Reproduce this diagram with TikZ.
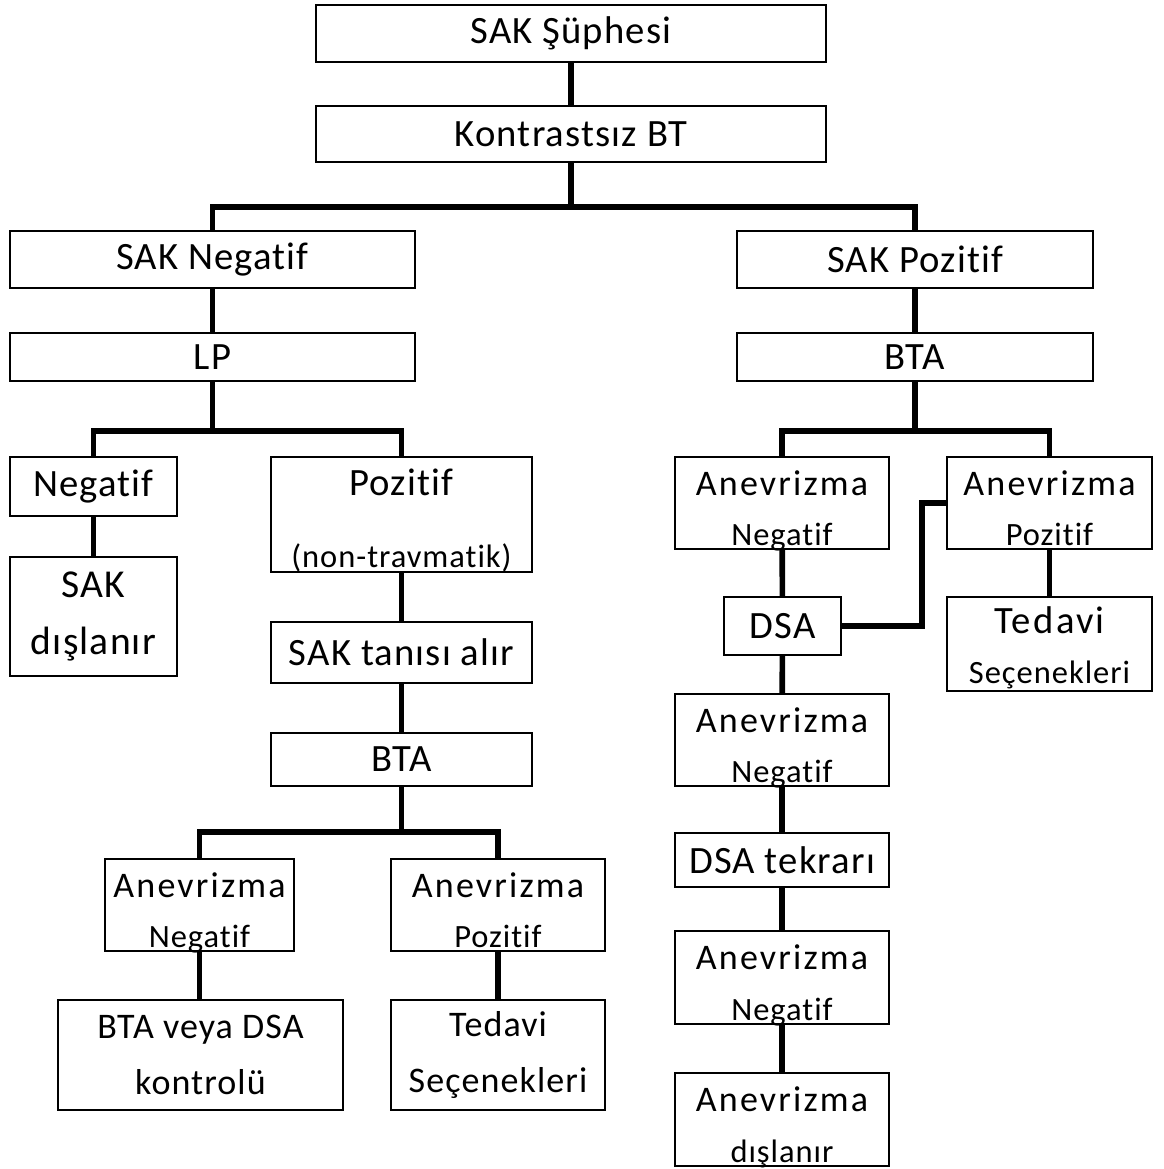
\documentclass[tikz,border=0pt]{standalone}
\usepackage{fontspec}
\setmainfont[LetterSpace=3, Ligatures=NoCommon]{Carlito}
\newfontfamily\anfont[LetterSpace=6, Ligatures=NoCommon]{Carlito}
\usepackage{tikz}
\tikzstyle{box}=[rectangle, draw=black, line width=.8pt, inner sep=0pt,
                 align=center, font=\fontsize{22}{26}\selectfont]
\tikzstyle{line}=[draw=black, line width=3.2pt]
\tikzstyle{head}=[anchor=base, inner sep=0pt, font=\anfont\fontsize{20.5}{24}\selectfont]
\tikzstyle{big}=[anchor=base, inner sep=0pt, font=\fontsize{22}{26}\selectfont]
\tikzstyle{sub}=[anchor=base, inner sep=0pt, font=\fontsize{18.5}{20}\selectfont]

\begin{document}
\begin{tikzpicture}[x=0.02cm, y=-0.02cm]
      \useasboundingbox (0,0) rectangle (1163,1169);

      % top
      \node[box, minimum width=10.2cm, minimum height=1.14cm] (supheli) at (571,33.5) {SAK Şüphesi};
      \node[box, minimum width=10.2cm, minimum height=1.12cm] (bt) at (571,134) {Kontrastsız BT};

      \node[box, minimum width=8.1cm, minimum height=1.14cm] (sakneg) at (212.5,259.5) {SAK Negatif};
      \node[box, minimum width=7.12cm, minimum height=1.14cm] (sakpoz) at (915,259.5) {SAK Pozitif};

      \node[box, minimum width=8.1cm, minimum height=.96cm] (lp) at (212.5,357) {LP};
      \node[box, minimum width=7.12cm, minimum height=.96cm] (btar) at (915,357) {BTA};

      % left branch
      \node[box, minimum width=3.34cm, minimum height=1.18cm] (lpneg) at (93.5,486.5) {Negatif};
      \node[box, minimum width=3.34cm, minimum height=2.38cm,
            font=\fontsize{22.5}{32.3}\selectfont] (disl) at (93.5,616.5) {SAK\\dışlanır};

      \node[box, minimum width=5.22cm, minimum height=2.3cm] (lppoz) at (401.5,514.5) {};
      \node[big] (lppozt) at (401.5,495) {Pozitif};
      \node[sub] (lppozs) at (401.5,567) {(non-travmatik)};

      \node[box, minimum width=5.22cm, minimum height=1.22cm] (tani) at (401.5,652.5) {SAK tanısı alır};
      \node[box, minimum width=5.22cm, minimum height=1.06cm] (btal) at (401.5,759.5) {BTA};

      \node[box, minimum width=3.78cm, minimum height=1.84cm] (anl1) at (199.5,905) {};
      \node[head] (anl1t) at (199.5,897) {Anevrizma};
      \node[sub] (anl1s) at (199.5,947) {Negatif};

      \node[box, minimum width=4.28cm, minimum height=1.84cm] (anl2) at (498,905) {};
      \node[head] (anl2t) at (498,897) {Anevrizma};
      \node[sub] (anl2s) at (498,947) {Pozitif};

      \node[box, minimum width=5.7cm, minimum height=2.2cm,
            font=\fontsize{20.5}{32.3}\selectfont] (kontrol) at (200.5,1055) {BTA veya DSA\\kontrolü};
      \node[box, minimum width=4.28cm, minimum height=2.2cm,
            font=\fontsize{20.5}{32.3}\selectfont] (tedl) at (498,1055) {Tedavi\\Seçenekleri};

      % right branch
      \node[box, minimum width=4.28cm, minimum height=1.84cm] (anr1) at (782,503) {};
      \node[head] (anr1t) at (782,495) {Anevrizma};
      \node[sub] (anr1s) at (782,545) {Negatif};

      \node[box, minimum width=4.1cm, minimum height=1.84cm] (anr2) at (1049.5,503) {};
      \node[head] (anr2t) at (1049.5,495) {Anevrizma};
      \node[sub] (anr2s) at (1049.5,545) {Pozitif};

      \node[box, minimum width=2.34cm, minimum height=1.16cm] (dsa) at (782.5,626) {DSA};

      \node[box, minimum width=4.1cm, minimum height=1.88cm] (tedr) at (1049.5,644) {};
      \node[head, font=\anfont\fontsize{22}{26}\selectfont] (tedrt) at (1049.5,633) {Tedavi};
      \node[sub] (tedrs) at (1049.5,683) {Seçenekleri};

      \node[box, minimum width=4.28cm, minimum height=1.84cm] (anr3) at (782,740) {};
      \node[head] (anr3t) at (782,732) {Anevrizma};
      \node[sub] (anr3s) at (782,782) {Negatif};

      \node[box, minimum width=4.28cm, minimum height=1.08cm] (tekrar) at (782,860) {DSA tekrarı};

      \node[box, minimum width=4.28cm, minimum height=1.86cm] (anr4) at (782,977.5) {};
      \node[head] (anr4t) at (782,969) {Anevrizma};
      \node[sub] (anr4s) at (782,1020) {Negatif};

      \node[box, minimum width=4.28cm, minimum height=1.86cm] (anr5) at (782,1119.5) {};
      \node[head] (anr5t) at (782,1111) {Anevrizma};
      \node[sub] (anr5s) at (782,1162) {dışlanır};

      % joints
      \coordinate (j1) at (571,207);
      \coordinate (j2) at (212.5,431);
      \coordinate (j3) at (401.5,832);
      \coordinate (j4) at (915,431);
      \coordinate (k1) at (922,503);

      % connectors
      \draw[line] (supheli) -- (bt);
      \draw[line] (bt) -- (j1);
      \draw[line] (sakneg.north) |- (j1) -| (sakpoz.north);

      \draw[line] (sakneg) -- (lp);
      \draw[line] (lp) -- (j2);
      \draw[line] (lpneg.north) |- (j2) -| (lppoz.north);
      \draw[line] (lpneg) -- (disl);
      \draw[line] (lppoz) -- (tani);
      \draw[line] (tani) -- (btal);
      \draw[line] (btal) -- (j3);
      \draw[line] (anl1.north) |- (j3) -| (anl2.north);
      \draw[line] (anl1.south) -- (anl1.south |- kontrol.north);
      \draw[line] (anl2) -- (tedl);

      \draw[line] (sakpoz) -- (btar);
      \draw[line] (btar) -- (j4);
      \draw[line] (anr1.north) |- (j4) -| (anr2.north);
      \draw[line] (anr1) -- (dsa);
      \draw[line] (anr2.west) -- (k1) |- (dsa.east);
      \draw[line] (anr2) -- (tedr);
      \draw[line] (dsa) -- (anr3);
      \draw[line] (anr3) -- (tekrar);
      \draw[line] (tekrar) -- (anr4);
      \draw[line] (anr4) -- (anr5);
\end{tikzpicture}
\end{document}
